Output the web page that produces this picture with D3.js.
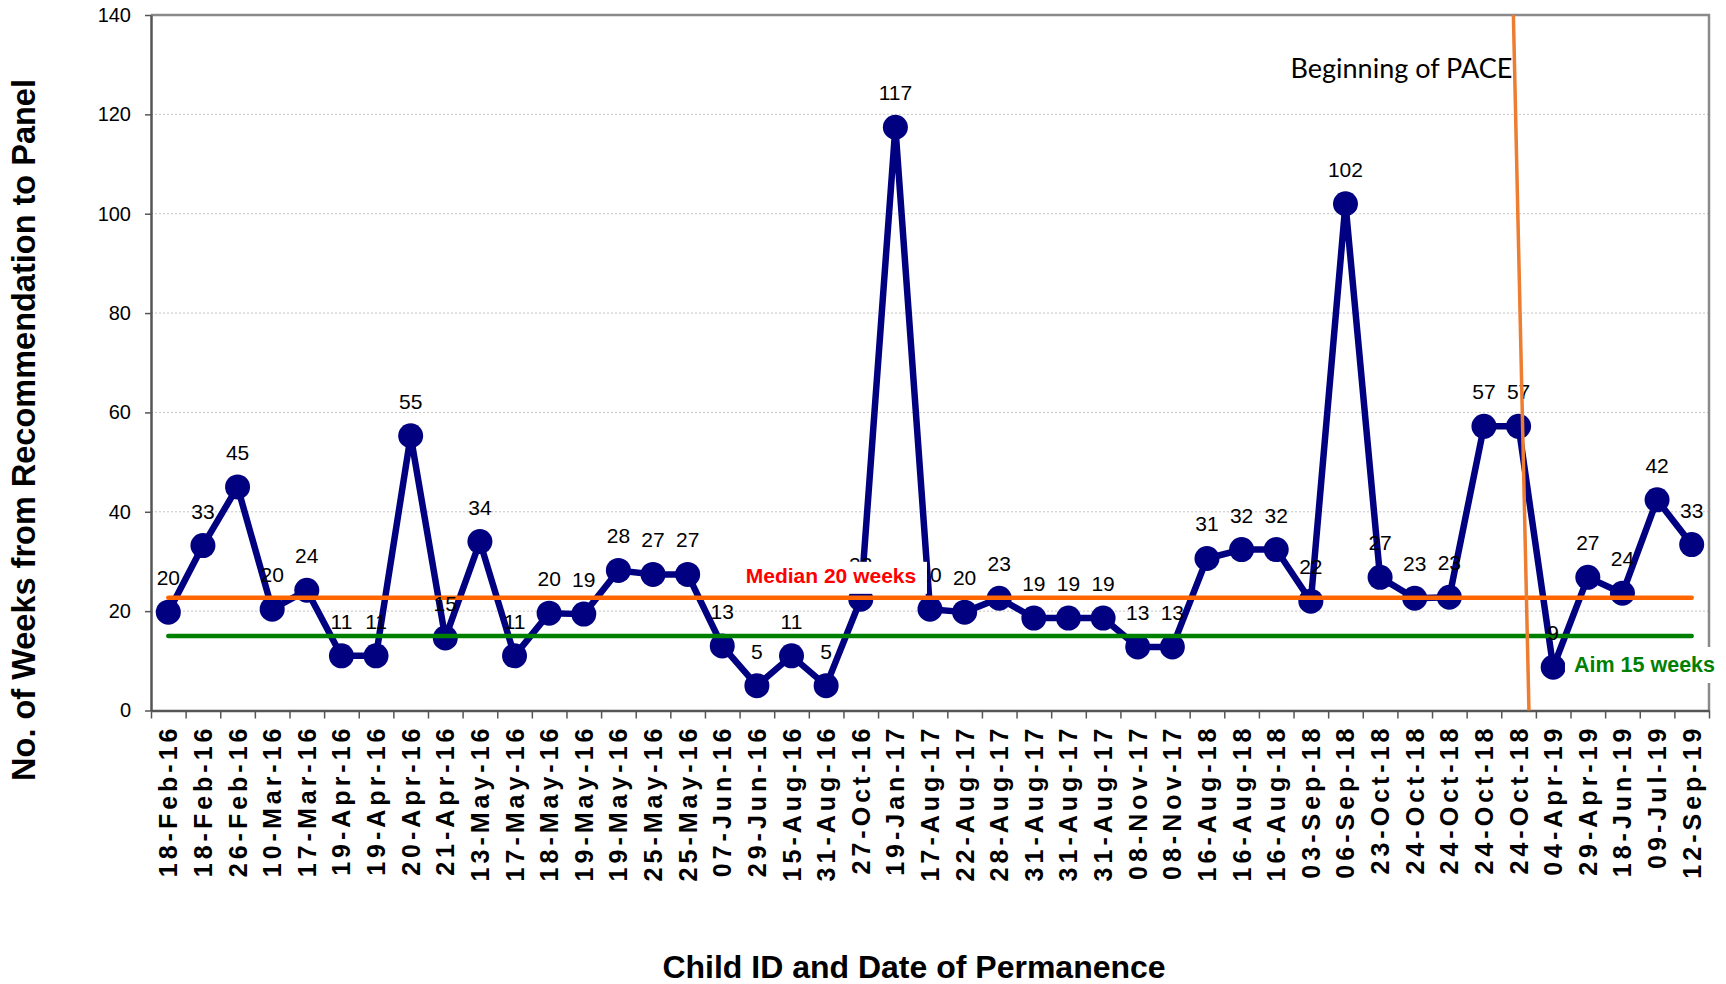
<!DOCTYPE html>
<html><head><meta charset="utf-8">
<script src="https://cdn.jsdelivr.net/npm/d3@7"></script>
<style>
body{margin:0;background:#fff;}
svg{display:block;font-family:"Liberation Sans",Arial,sans-serif;}
</style>
</head><body>
<svg id="c" width="1726" height="984"></svg>
<script>
// ---------- data ----------
const categories = ["18-Feb-16","18-Feb-16","26-Feb-16","10-Mar-16","17-Mar-16","19-Apr-16","19-Apr-16","20-Apr-16","21-Apr-16","13-May-16","17-May-16","18-May-16","19-May-16","19-May-16","25-May-16","25-May-16","07-Jun-16","29-Jun-16","15-Aug-16","31-Aug-16","27-Oct-16","19-Jan-17","17-Aug-17","22-Aug-17","28-Aug-17","31-Aug-17","31-Aug-17","31-Aug-17","08-Nov-17","08-Nov-17","16-Aug-18","16-Aug-18","16-Aug-18","03-Sep-18","06-Sep-18","23-Oct-18","24-Oct-18","24-Oct-18","24-Oct-18","24-Oct-18","04-Apr-19","29-Apr-19","18-Jun-19","09-Jul-19","12-Sep-19"];
const weeks = [19.8,33.2,45.0,20.4,24.2,11.0,11.0,55.3,14.6,34.0,11.0,19.6,19.4,28.2,27.4,27.4,13.0,5.0,11.0,5.0,22.4,117.4,20.4,19.8,22.6,18.6,18.6,18.6,12.8,12.8,30.6,32.4,32.4,22.0,102.0,26.8,22.6,22.8,57.2,57.2,8.7,26.8,23.6,42.4,33.4];
const yTicks = [0,20,40,60,80,100,120,140];
const medianValue = 22.7;
const aimValue = 15;
const paceIndex = 40;          // PACE begins before the 41st case
const medianText = "Median 20 weeks";
const aimText = "Aim 15 weeks";
const paceText = "Beginning of PACE";
const yTitle = "No. of Weeks from Recommendation to Panel";
const xTitle = "Child ID and Date of Permanence";

// ---------- layout ----------
const m = {left:151, right:1709, top:15, bottom:710.5};
const svg = d3.select('#c');
const n = categories.length;
const y = d3.scaleLinear().domain([0,140]).range([m.bottom, m.top]);
const xb = d3.scaleBand().domain(d3.range(n)).range([m.left, m.right]);
const xl = d3.scaleLinear().domain([0, n]).range([m.left, m.right]);
const cx = i => xb(i) + xb.bandwidth()/2;

// grid
svg.append('g').selectAll('line').data(yTicks.filter(t => t > 0 && t < 140)).join('line')
  .attr('x1', m.left).attr('x2', m.right)
  .attr('y1', d => y(d)).attr('y2', d => y(d))
  .attr('stroke', '#c4c4c4').attr('stroke-width', 1).attr('stroke-dasharray', '2,2');

// top & right border
svg.append('path').attr('d', `M${m.left},${m.top}H${m.right}V${m.bottom}`)
  .attr('fill', 'none').attr('stroke', '#8a8a8a').attr('stroke-width', 2.5);

// y axis
const gy = svg.append('g').attr('transform', `translate(${m.left},0)`)
  .call(d3.axisLeft(y).tickValues(yTicks).tickSize(6).tickSizeOuter(0).tickPadding(14));
gy.select('.domain').attr('stroke', '#555').attr('stroke-width', 2.5);
gy.selectAll('.tick line').attr('stroke', '#555').attr('stroke-width', 1.5);
gy.selectAll('.tick text').attr('font-size', 20).attr('fill', '#000')
  .attr('font-family', '"Liberation Sans",Arial,sans-serif');

// x axis (ticks at category boundaries)
const gx = svg.append('g').attr('transform', `translate(0,${m.bottom})`)
  .call(d3.axisBottom(xl).tickValues(d3.range(n + 1)).tickSize(8).tickSizeOuter(0).tickFormat(''));
gx.select('.domain').attr('stroke', '#555').attr('stroke-width', 2.5);
gx.selectAll('.tick line').attr('stroke', '#555').attr('stroke-width', 1.5);

// x tick labels
svg.append('g').selectAll('text').data(categories).join('text')
  .attr('transform', (d, i) => `translate(${cx(i)},${m.bottom + 14}) rotate(-90)`)
  .attr('text-anchor', 'end').attr('dy', '0.36em')
  .attr('font-size', 25).attr('font-weight', 'bold').attr('letter-spacing', 4)
  .text(d => d);

// series
svg.append('path').datum(weeks)
  .attr('d', d3.line().x((d, i) => cx(i)).y(d => y(d)))
  .attr('fill', 'none').attr('stroke', '#000080').attr('stroke-width', 6.5).attr('stroke-linejoin', 'round');
svg.append('g').selectAll('circle').data(weeks).join('circle')
  .attr('cx', (d, i) => cx(i)).attr('cy', d => y(d)).attr('r', 12.5).attr('fill', '#000080');

// median and aim lines
const lineRef = (v, col) => svg.append('line')
  .attr('x1', cx(0)).attr('x2', cx(n - 1)).attr('y1', y(v)).attr('y2', y(v))
  .attr('stroke', col).attr('stroke-width', 4.5).attr('stroke-linecap', 'round');
lineRef(medianValue, '#ff6600');
lineRef(aimValue, '#008000');

// value labels
svg.append('g').selectAll('text').data(weeks).join('text')
  .attr('x', (d, i) => cx(i)).attr('y', d => y(d) - 27)
  .attr('text-anchor', 'middle').attr('font-size', 21).attr('fill', '#000')
  .text(d => Math.round(d));

// median label (white box)
const mx = xl(19.64), my = y(25.7);
svg.append('rect').attr('x', mx - 92).attr('y', my - 21).attr('width', 188).attr('height', 32).attr('fill', '#fff');
svg.append('text').attr('x', mx).attr('y', my).attr('text-anchor', 'middle')
  .attr('font-size', 21).attr('font-weight', 'bold').attr('fill', '#ff0000').text(medianText);

// aim label (white box)
const ax = xl(41.1), ay = y(7.75);
svg.append('rect').attr('x', ax - 9).attr('y', ay - 25).attr('width', 156).attr('height', 36).attr('fill', '#fff');
svg.append('text').attr('x', ax).attr('y', ay)
  .attr('font-size', 21.5).attr('font-weight', 'bold').attr('fill', '#008000').text(aimText);

// PACE line and label
svg.append('line')
  .attr('x1', xl(paceIndex - 0.65)).attr('y1', y(140))
  .attr('x2', xl(paceIndex - 0.2)).attr('y2', y(0))
  .attr('stroke', '#ed7d31').attr('stroke-width', 3.5);
svg.append('text').attr('x', xl(paceIndex - 0.68)).attr('y', y(127.4)).attr('text-anchor', 'end')
  .attr('font-family', 'Lato,"Open Sans",sans-serif').attr('font-size', 27).attr('fill', '#000').text(paceText);

// axis titles
svg.append('text').attr('transform', `translate(35,430) rotate(-90)`).attr('text-anchor', 'middle')
  .attr('font-size', 32.5).attr('font-weight', 'bold').text(yTitle);
svg.append('text').attr('x', 914).attr('y', 978).attr('text-anchor', 'middle')
  .attr('font-size', 32).attr('font-weight', 'bold').text(xTitle);
</script>
</body></html>
